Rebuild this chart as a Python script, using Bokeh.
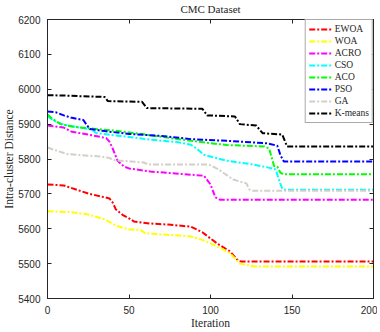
from bokeh.plotting import figure
from bokeh.models import (Range1d, LinearAxis, SingleIntervalTicker, Legend, LegendItem,
                          CustomJSTickFormatter)
from bokeh.embed import file_html
from bokeh.resources import INLINE

names = ["EWOA", "WOA", "ACRO", "CSO", "ACO", "PSO", "GA", "K-means"]
colors = ["#ff0000", "#ffff00", "#ff00ff", "#00ffff", "#00ff00", "#0000ff", "#d3d0c8", "#000000"]

it_ewoa = [0, 10, 25, 38, 40, 42, 46, 50, 53, 63, 74, 88, 95, 100, 105, 112, 117, 119, 200]
v_ewoa = [5727, 5724, 5701, 5687, 5675, 5655, 5640, 5630, 5621, 5615, 5612, 5606, 5590, 5572, 5555, 5535, 5508, 5506, 5506]

it_woa = [0, 13, 25, 35, 43, 50, 57, 60, 88, 95, 100, 106, 112, 118, 127, 200]
v_woa = [5650, 5648, 5641, 5627, 5607, 5598, 5597, 5587, 5578, 5568, 5558, 5545, 5530, 5500, 5492, 5492]

it_acro = [0, 10, 15, 25, 36, 38, 40, 43, 47, 50, 63, 88, 96, 100, 103, 106, 200]
v_acro = [5896, 5890, 5878, 5870, 5860, 5850, 5830, 5795, 5778, 5773, 5764, 5755, 5752, 5727, 5690, 5683, 5683]

it_cso = [0, 4, 10, 20, 27, 30, 45, 60, 80, 88, 92, 96, 110, 125, 135, 140, 142, 144, 146, 200]
v_cso = [5922, 5910, 5898, 5890, 5885, 5874, 5866, 5857, 5848, 5841, 5828, 5812, 5795, 5785, 5776, 5770, 5740, 5715, 5712, 5712]

it_aco = [0, 3, 8, 15, 25, 40, 60, 88, 110, 133, 136, 139, 141, 143, 145, 200]
v_aco = [5928, 5915, 5900, 5893, 5888, 5882, 5870, 5852, 5840, 5836, 5830, 5780, 5778, 5760, 5756, 5756]

it_pso = [0, 5, 10, 15, 22, 24, 26, 35, 50, 70, 88, 110, 135, 141, 143, 145, 200]
v_pso = [5936, 5934, 5925, 5918, 5912, 5898, 5886, 5880, 5872, 5866, 5857, 5852, 5845, 5838, 5810, 5793, 5793]

it_ga = [0, 5, 12, 33, 38, 40, 51, 59, 62, 99, 105, 114, 122, 124, 126, 200]
v_ga = [5833, 5825, 5814, 5807, 5803, 5797, 5793, 5790, 5784, 5784, 5770, 5741, 5730, 5712, 5709, 5709]

it_km = [0, 10, 20, 35, 37, 58, 61, 95, 98, 115, 118, 128, 132, 144, 147, 200]
v_km = [5983, 5982, 5980, 5978, 5966, 5964, 5946, 5944, 5925, 5922, 5900, 5896, 5874, 5870, 5836, 5836]

xs = [it_ewoa, it_woa, it_acro, it_cso, it_aco, it_pso, it_ga, it_km]
ys = [v_ewoa, v_woa, v_acro, v_cso, v_aco, v_pso, v_ga, v_km]

x_ticks_interval = 50
y_ticks_interval = 100

p = figure(frame_width=326, frame_height=279, output_backend="svg", toolbar_location=None,
           x_range=Range1d(0, 200), y_range=Range1d(5400, 6200),
           min_border_left=38, min_border_right=0, min_border_top=0, min_border_bottom=27,
           title="CMC Dataset")
p.background_fill_color = "white"
p.border_fill_color = "white"
p.outline_line_color = "#262626"
p.outline_line_width = 1
p.xgrid.visible = False
p.ygrid.visible = False

serif = "Liberation Serif"
sans = "Liberation Sans"

p.title.align = "center"
p.title.text_font = serif
p.title.text_font_size = "11px"
p.title.text_font_style = "normal"
p.title.text_color = "#262626"
p.title.standoff = 1
p.title.offset = 0

for ax in (p.xaxis[0], p.yaxis[0]):
    ax.major_tick_in = 4
    ax.major_tick_out = 0
    ax.minor_tick_line_color = None
    ax.axis_line_color = "#262626"
    ax.major_tick_line_color = "#262626"
    ax.major_label_text_font = sans
    ax.major_label_text_font_size = "10px"
    ax.major_label_text_color = "#262626"
    ax.axis_label_text_font = serif
    ax.axis_label_text_font_size = "11.5px"
    ax.axis_label_text_font_style = "normal"
    ax.axis_label_text_color = "#262626"
    ax.axis_label_standoff = 0
    ax.major_label_standoff = 3

p.xaxis[0].ticker = SingleIntervalTicker(interval=x_ticks_interval)
p.yaxis[0].ticker = SingleIntervalTicker(interval=y_ticks_interval)
p.xaxis[0].axis_label = "Iteration"
p.yaxis[0].axis_label = "Intra-cluster Distance"

blank = CustomJSTickFormatter(code="return '';")
top = LinearAxis(ticker=SingleIntervalTicker(interval=x_ticks_interval), formatter=blank,
                 major_tick_in=4, major_tick_out=0, minor_tick_line_color=None,
                 major_label_text_font_size="1px",
                 axis_line_color="#262626", major_tick_line_color="#262626", major_label_standoff=0)
right = LinearAxis(ticker=SingleIntervalTicker(interval=y_ticks_interval), formatter=blank,
                   major_tick_in=4, major_tick_out=0, minor_tick_line_color=None,
                   major_label_text_font_size="1px",
                   axis_line_color="#262626", major_tick_line_color="#262626", major_label_standoff=0)
p.add_layout(top, "above")
p.add_layout(right, "right")

items = []
for name, c, x, y in zip(names, colors, xs, ys):
    r = p.line(x, y, line_color=c, line_width=2, line_dash="6 2 2 2")
    items.append(LegendItem(label=name, renderers=[r]))

legend = Legend(items=items, location="top_right", margin=0, padding=3, spacing=0,
                glyph_width=24, glyph_height=12, label_height=12, label_standoff=2,
                label_text_font=serif, label_text_font_size="9.5px", label_text_color="#262626",
                border_line_color="#555555", border_line_width=1, background_fill_color="white",
                background_fill_alpha=1.0)
p.add_layout(legend, "center")

open("out.html", "w").write(file_html(p, INLINE))
